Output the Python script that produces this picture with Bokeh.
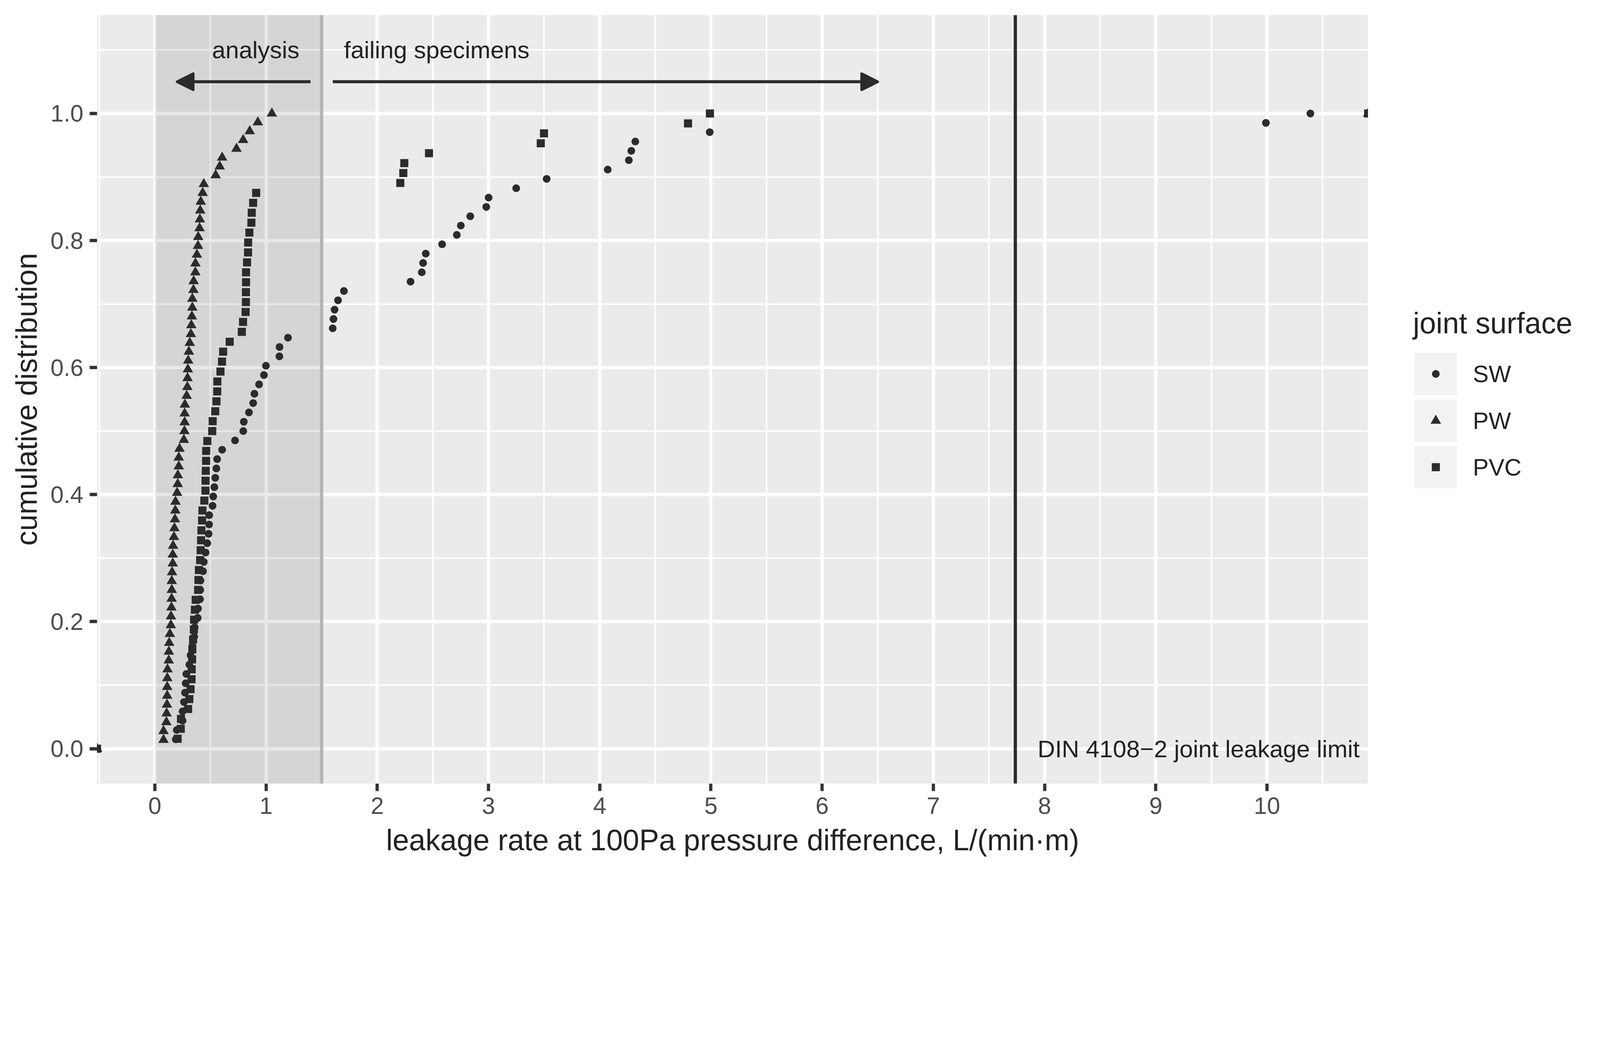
import numpy as np
from bokeh.plotting import figure
from bokeh.layouts import row
from bokeh.models import (Range1d, FixedTicker, Span, Arrow, NormalHead, Label,
                          PrintfTickFormatter)
from bokeh.core.properties import value
from bokeh.embed import file_html
from bokeh.resources import INLINE

# ---------------- data (leakage rate at 100 Pa, L/(min*m)) ----------------
groups = ["SW", "PW", "PVC"]

sw_leakage = [0.188, 0.197, 0.249, 0.250, 0.262, 0.271, 0.277, 0.283, 0.310, 0.321,
              0.338, 0.354, 0.358, 0.385, 0.388, 0.406, 0.408, 0.410, 0.433, 0.440,
              0.456, 0.471, 0.483, 0.488, 0.489, 0.519, 0.525, 0.535, 0.543, 0.553,
              0.560, 0.605, 0.721, 0.795, 0.800, 0.846, 0.884, 0.895, 0.937, 0.981,
              0.999, 1.120, 1.121, 1.197, 1.599, 1.606, 1.616, 1.647, 1.700, 2.299,
              2.400, 2.412, 2.436, 2.583, 2.715, 2.751, 2.836, 2.980, 3.001, 3.249,
              3.523, 4.072, 4.262, 4.284, 4.320, 4.989, 9.990, 10.390]

pw_leakage = [0.078, 0.078, 0.104, 0.106, 0.109, 0.111, 0.111, 0.112, 0.114, 0.125,
              0.126, 0.129, 0.135, 0.144, 0.145, 0.149, 0.151, 0.152, 0.152, 0.155,
              0.161, 0.161, 0.164, 0.172, 0.176, 0.181, 0.184, 0.186, 0.200, 0.206,
              0.207, 0.215, 0.215, 0.222, 0.261, 0.266, 0.268, 0.268, 0.270, 0.286,
              0.292, 0.294, 0.297, 0.300, 0.306, 0.314, 0.324, 0.328, 0.333, 0.337,
              0.337, 0.347, 0.349, 0.364, 0.365, 0.378, 0.388, 0.390, 0.402, 0.405,
              0.408, 0.413, 0.430, 0.440, 0.547, 0.583, 0.605, 0.734, 0.794, 0.853,
              0.926, 1.052]

pvc_leakage = [0.205, 0.233, 0.235, 0.299, 0.310, 0.321, 0.330, 0.331, 0.335, 0.337,
               0.344, 0.351, 0.353, 0.360, 0.367, 0.389, 0.392, 0.396, 0.407, 0.412,
               0.416, 0.419, 0.425, 0.428, 0.445, 0.455, 0.456, 0.458, 0.461, 0.462,
               0.472, 0.516, 0.520, 0.543, 0.554, 0.561, 0.562, 0.590, 0.604, 0.614,
               0.673, 0.782, 0.793, 0.816, 0.819, 0.819, 0.820, 0.820, 0.829, 0.838,
               0.839, 0.850, 0.868, 0.871, 0.884, 0.911, 2.207, 2.234, 2.243, 2.465,
               3.470, 3.499, 4.794, 4.991]

x_ticks = list(range(0, 11))
x_minor_ticks = [-0.5 + i for i in range(12)]
y_ticks = [0.0, 0.2, 0.4, 0.6, 0.8, 1.0]
y_minor_ticks = [0.1, 0.3, 0.5, 0.7, 0.9, 1.1]

legend_title = "joint surface"

# annotation constants
ANALYSIS_MIN, ANALYSIS_MAX = 0.0, 1.5
DIN_LIMIT = 7.737
ARROW_Y = 1.05
TEXT_Y = 1.1
ANALYSIS_ARROW = (1.4, 0.2)
FAILING_ARROW = (1.6, 6.5)

# ---------------- scales (ggplot-like 5% expansion) ----------------
all_x = sw_leakage + pw_leakage + pvc_leakage + [ANALYSIS_MIN, ANALYSIS_MAX]
x_min, x_max = min(all_x), max(all_x)
X_LO = x_min - 0.05 * (x_max - x_min)
X_HI = x_max + 0.05 * (x_max - x_min)
y_min, y_max = 0.0, TEXT_Y
Y_LO = y_min - 0.05 * (y_max - y_min)
Y_HI = y_max + 0.05 * (y_max - y_min)


def ecdf_points(values):
    v = np.sort(np.asarray(values, dtype=float))
    n = len(v)
    y = np.arange(1, n + 1) / n
    # stat_ecdf padding: (-Inf, 0) and (+Inf, 1)
    xs = np.concatenate([[X_LO], v, [X_HI]])
    ys = np.concatenate([[0.0], y, [1.0]])
    return xs, ys


# layout scale: CSS px per reference px
S = 4096 / 4959


def px(v):
    return v * S


def fs(v):
    return "%.2fpx" % (v * S)


INK = "#2b2b2b"
TXT = "#222222"
FONT = "Liberation Sans"

H = 2230
FRAME_L, FRAME_T, FRAME_W, FRAME_H = 248, 38, 3254, 1967
FRAME_B = FRAME_T + FRAME_H
W1 = FRAME_L + FRAME_W
W2 = 4080 - W1

p = figure(width=W1, height=H, output_backend="svg", toolbar_location=None,
           x_range=Range1d(X_LO, X_HI), y_range=Range1d(Y_LO, Y_HI),
           min_border_left=FRAME_L, min_border_right=0,
           min_border_top=FRAME_T, min_border_bottom=H - FRAME_B,
           background_fill_color="#EBEBEB", border_fill_color="white",
           outline_line_color=None)

# grids
p.xaxis.ticker = FixedTicker(ticks=x_ticks, minor_ticks=x_minor_ticks)
p.yaxis.ticker = FixedTicker(ticks=y_ticks, minor_ticks=y_minor_ticks)
for g in (p.xgrid, p.ygrid):
    g.grid_line_color = "white"
    g.grid_line_width = px(10)
    g.minor_grid_line_color = "white"
    g.minor_grid_line_width = px(5)
p.xgrid.ticker = p.xaxis.ticker
p.ygrid.ticker = p.yaxis.ticker

# axes
for ax in (p.xaxis, p.yaxis):
    ax.axis_line_color = None
    ax.major_tick_out = round(px(23))
    ax.major_tick_in = 0
    ax.major_tick_line_width = px(10)
    ax.major_tick_line_color = "#333333"
    ax.minor_tick_line_color = None
    ax.major_label_text_font = FONT
    ax.major_label_text_font_size = fs(73.33)
    ax.major_label_text_color = "#4D4D4D"
    ax.axis_label_text_font = FONT
    ax.axis_label_text_font_size = fs(91.67)
    ax.axis_label_text_font_style = "normal"
    ax.axis_label_text_color = TXT
p.yaxis.formatter = PrintfTickFormatter(format="%.1f")
p.xaxis.major_label_standoff = round(px(19))
p.yaxis.major_label_standoff = round(px(19))
p.xaxis.axis_label = "leakage rate at 100Pa pressure difference, L/(min\u00b7m)"
p.yaxis.axis_label = "cumulative distribution"
p.xaxis.axis_label_standoff = round(px(25))
p.yaxis.axis_label_standoff = round(px(19))

# shaded analysis region
p.quad(left=[ANALYSIS_MIN], right=[ANALYSIS_MAX], bottom=[Y_LO], top=[Y_HI],
       fill_color="black", fill_alpha=0.09, line_color=None)
p.add_layout(Span(location=ANALYSIS_MAX, dimension="height",
                  line_color="#B3B3B3", line_width=px(10)))
p.add_layout(Span(location=DIN_LIMIT, dimension="height",
                  line_color=INK, line_width=px(10)))

# data points
markers = {"SW": ("circle", 24), "PW": ("triangle", 32.5), "PVC": ("square", 25)}
series = {"SW": sw_leakage, "PW": pw_leakage, "PVC": pvc_leakage}
for g in groups:
    xs, ys = ecdf_points(series[g])
    m, s = markers[g]
    p.scatter(x=xs, y=ys, marker=m, size=px(s), fill_color=INK, line_color=None)

# arrows
for (xs_, xe_) in (ANALYSIS_ARROW, FAILING_ARROW):
    p.add_layout(Arrow(end=NormalHead(size=px(50), fill_color=INK, line_color=INK,
                                      line_width=px(8), line_join="round"),
                       x_start=xs_, y_start=ARROW_Y, x_end=xe_, y_end=ARROW_Y,
                       line_color=INK, line_width=px(9.5)))

# texts (vertically centred on their anchor, like ggplot vjust = 0.5)
for txt, x, align, y in (("analysis", 1.3, "right", TEXT_Y),
                         ("failing specimens", 1.7, "left", TEXT_Y),
                         ("DIN 4108\u22122 joint leakage limit", DIN_LIMIT + 0.2, "left", 0.0)):
    p.add_layout(Label(x=x, y=y, text=txt, text_align=align, text_baseline="middle",
                       text_font=FONT, text_font_size=fs(75), text_color=TXT))

# ---------------- legend panel (page pixel coordinates, y downwards) ----------------
# its frame is aligned with the main frame, so map the frame to page pixels
q = figure(width=W2, height=H, output_backend="svg", toolbar_location=None,
           x_range=Range1d(0, W2), y_range=Range1d(FRAME_B, FRAME_T),
           x_axis_location=None, y_axis_location=None,
           min_border_left=0, min_border_right=0,
           min_border_top=FRAME_T, min_border_bottom=H - FRAME_B,
           outline_line_color=None,
           background_fill_color="white", border_fill_color="white")
q.grid.visible = False

key_x = px(4449.5) - W1
key_y = [px(1158), px(1303), px(1447)]
key_size = px(131)
q.rect(x=[key_x] * 3, y=key_y, width=key_size, height=key_size,
       fill_color="#F2F2F2", line_color=None)
for g, ky in zip(groups, key_y):
    m, s = markers[g]
    q.scatter(x=[key_x], y=[ky], marker=m, size=px(s), fill_color=INK, line_color=None)
q.text(x=[px(4564.4) - W1] * 3, y=key_y, text=groups,
       text_font=value(FONT), text_font_size=value(fs(73.33)),
       text_color=TXT, text_align="left", text_baseline="middle")
q.text(x=[px(4378.7) - W1], y=[px(1000.2)], text=[legend_title],
       text_font=value(FONT), text_font_size=value(fs(91.67)),
       text_color=TXT, text_align="left", text_baseline="middle")

open("out.html", "w").write(file_html(row(p, q), INLINE))
